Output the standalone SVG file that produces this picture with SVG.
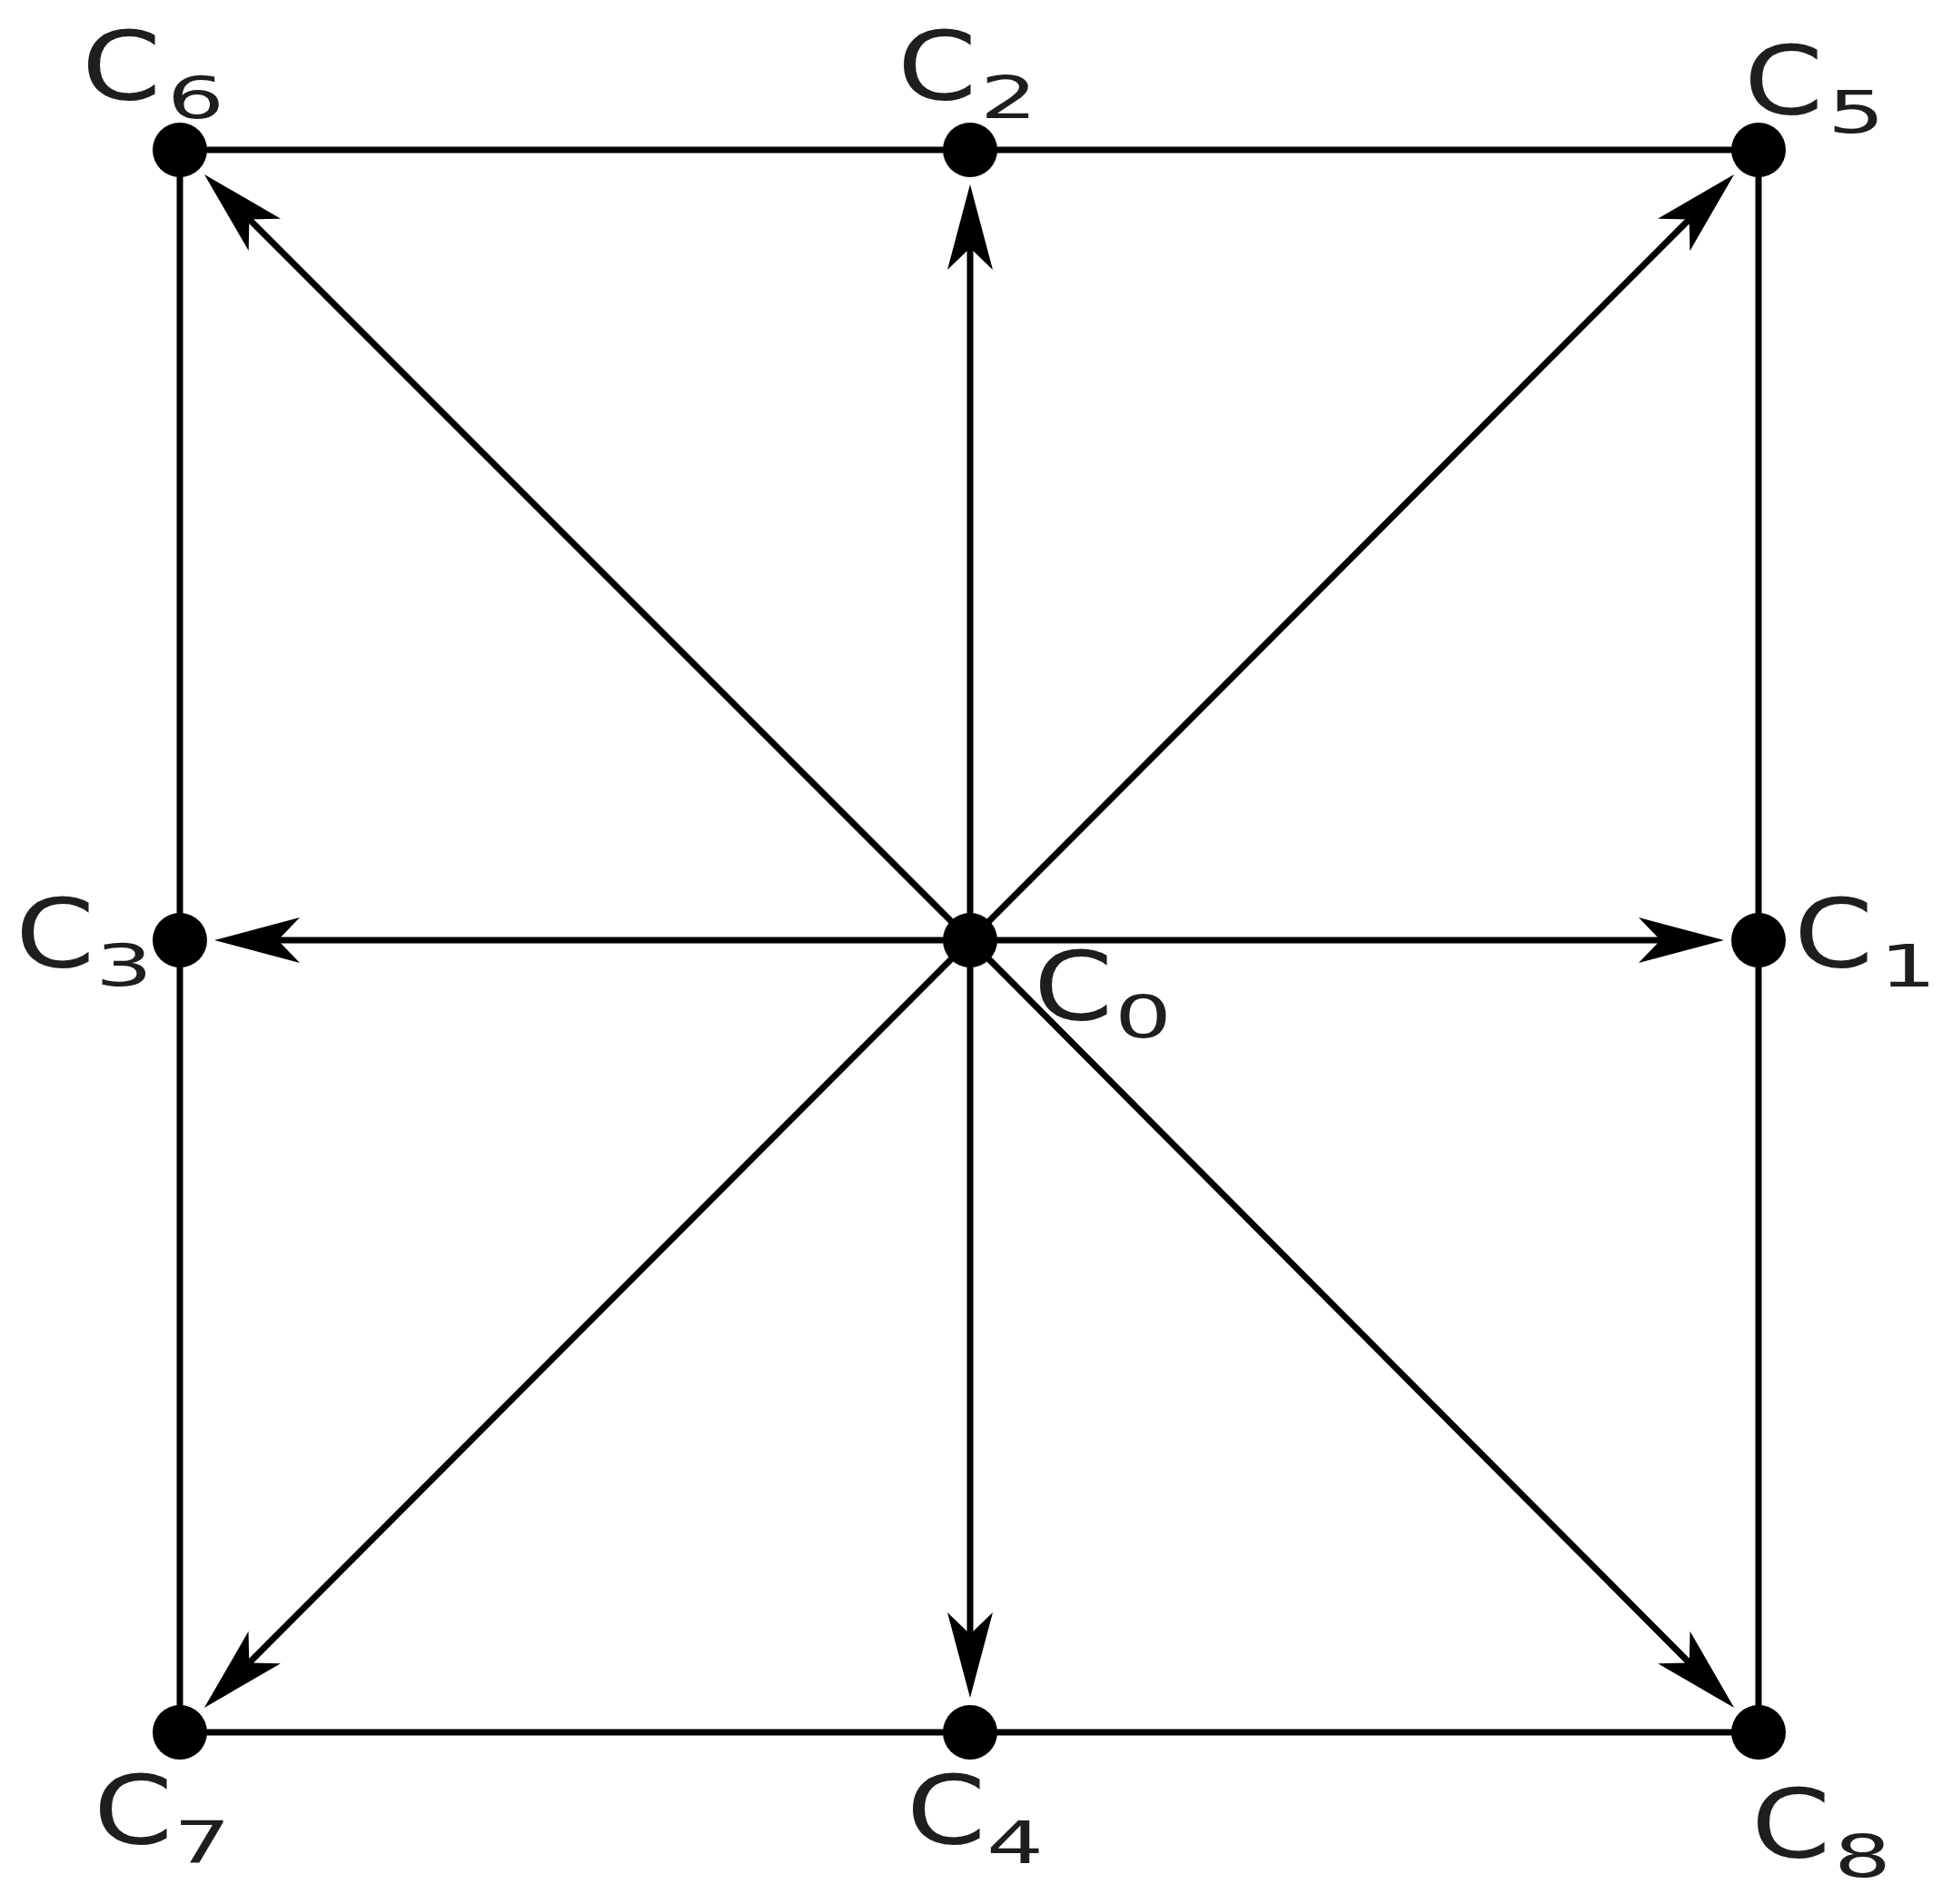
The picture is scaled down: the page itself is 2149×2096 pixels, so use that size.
<svg xmlns="http://www.w3.org/2000/svg" width="2149" height="2096" viewBox="0 0 2149 2096">
<style>
.edge{stroke:#000;stroke-width:7;fill:none}
.arrow{stroke:#000;stroke-width:7;fill:none;marker-end:url(#ah)}
.dot{fill:#000}
.lc{font-family:"DejaVu Sans",sans-serif;font-size:106px;fill:#1e1e1e}
.ls{font-family:"DejaVu Sans",sans-serif;font-size:64px;fill:#1e1e1e}
</style>
<defs>
<marker id="ah" markerUnits="userSpaceOnUse" markerWidth="100" markerHeight="60" viewBox="-25 -30 100 60" refX="0" refY="0" orient="auto" overflow="visible">
<path d="M70,0 L-24,-25 L0,0 L-24,25 Z" fill="#000"/>
</marker>
</defs>
<rect width="2149" height="2096" fill="#fff"/>
<g id="connectors">
<line class="edge" x1="198" y1="165" x2="1936" y2="165"/>
<line class="edge" x1="198" y1="1907" x2="1936" y2="1907"/>
<line class="edge" x1="198" y1="165" x2="198" y2="1907"/>
<line class="edge" x1="1936" y1="165" x2="1936" y2="1907"/>
<line class="arrow" x1="1068" y1="1035" x2="1068" y2="273"/>
<line class="arrow" x1="1068" y1="1035" x2="1068" y2="1799"/>
<line class="arrow" x1="1068" y1="1035" x2="1828" y2="1035"/>
<line class="arrow" x1="1068" y1="1035" x2="306" y2="1035"/>
<line class="arrow" x1="1068" y1="1035" x2="1859.7" y2="241.5"/>
<line class="arrow" x1="1068" y1="1035" x2="274.4" y2="241.4"/>
<line class="arrow" x1="1068" y1="1035" x2="274.3" y2="1830.5"/>
<line class="arrow" x1="1068" y1="1035" x2="1859.8" y2="1830.5"/>
</g>
<g id="C0"><circle class="dot" cx="1068" cy="1035" r="30"/><text class="lc" transform="translate(1138,1123) scale(1.18,1)">C</text><text class="ls" transform="translate(1227,1142) scale(1.55,1)">0</text></g>
<g id="C1"><circle class="dot" cx="1936" cy="1035" r="30"/><text class="lc" transform="translate(1975,1065) scale(1.18,1)">C</text><text class="ls" transform="translate(2069,1086) scale(1.55,1)">1</text></g>
<g id="C2"><circle class="dot" cx="1068" cy="165" r="30"/><text class="lc" transform="translate(988,110) scale(1.18,1)">C</text><text class="ls" transform="translate(1079,130) scale(1.55,1)">2</text></g>
<g id="C3"><circle class="dot" cx="198" cy="1035" r="30"/><text class="lc" transform="translate(17,1065) scale(1.18,1)">C</text><text class="ls" transform="translate(105,1085) scale(1.55,1)">3</text></g>
<g id="C4"><circle class="dot" cx="1068" cy="1907" r="30"/><text class="lc" transform="translate(998,2030) scale(1.18,1)">C</text><text class="ls" transform="translate(1086,2051) scale(1.55,1)">4</text></g>
<g id="C5"><circle class="dot" cx="1936" cy="165" r="30"/><text class="lc" transform="translate(1920,126) scale(1.18,1)">C</text><text class="ls" transform="translate(2012,146) scale(1.55,1)">5</text></g>
<g id="C6"><circle class="dot" cx="198" cy="165" r="30"/><text class="lc" transform="translate(90,110) scale(1.18,1)">C</text><text class="ls" transform="translate(184,130) scale(1.55,1)">6</text></g>
<g id="C7"><circle class="dot" cx="198" cy="1907" r="30"/><text class="lc" transform="translate(103,2030) scale(1.18,1)">C</text><text class="ls" transform="translate(191,2051) scale(1.55,1)">7</text></g>
<g id="C8"><circle class="dot" cx="1936" cy="1907" r="30"/><text class="lc" transform="translate(1928,2045) scale(1.18,1)">C</text><text class="ls" transform="translate(2019,2066) scale(1.55,1)">8</text></g>
</svg>
